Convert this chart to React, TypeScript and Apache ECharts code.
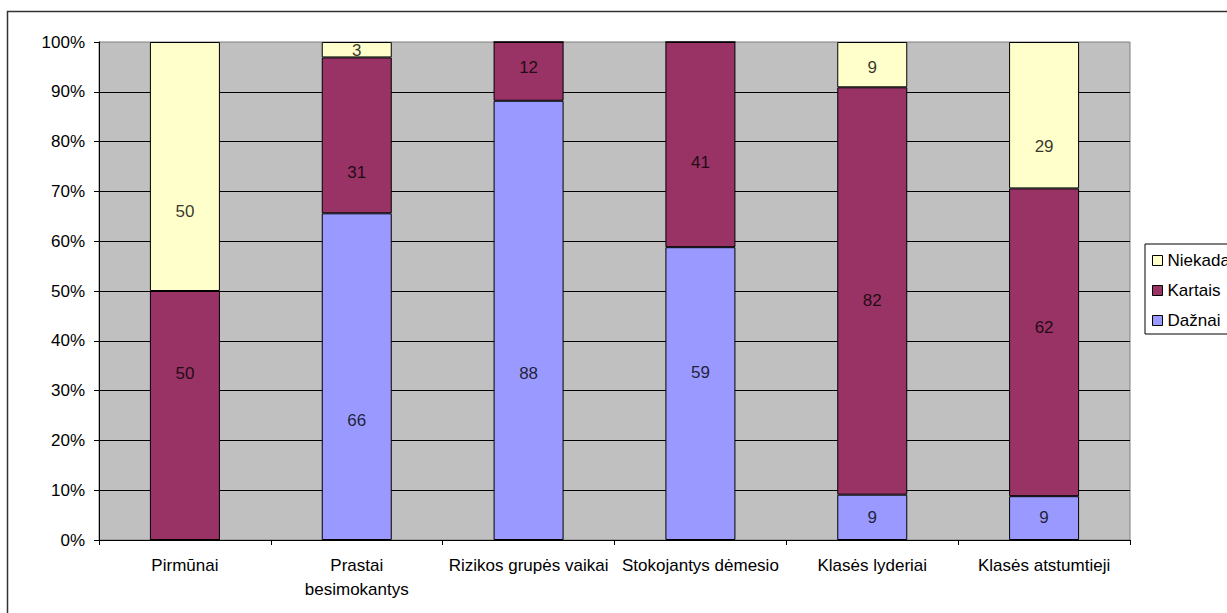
import React, { useEffect, useRef } from "react";
import * as echarts from "echarts";

const categories = [
  "Pirmūnai",
  "Prastai\nbesimokantys",
  "Rizikos grupės vaikai",
  "Stokojantys dėmesio",
  "Klasės lyderiai",
  "Klasės atstumtieji",
];
const seriesNames = ["Dažnai", "Kartais", "Niekada"];
// segment shares (%)
const dazniValues = [0, 65.6, 88.2, 58.8, 9.1, 8.8];
const kartaisValues = [50, 31.3, 11.8, 41.2, 81.8, 61.8];
const niekadaValues = [50, 3.1, 0, 0, 9.1, 29.4];
// where each value label sits on the % axis in the reference (null = no label)
const dazniLabelAt = [null, 24.0, 33.5, 33.6, 4.5, 4.5];
const kartaisLabelAt = [33.5, 73.8, 94.8, 75.8, 48.1, 42.7];
const niekadaLabelAt = [65.9, 98.2, null, null, 94.8, 79.1];
const yTicks = [0, 10, 20, 30, 40, 50, 60, 70, 80, 90, 100];
const colors = ["#9999FF", "#993366", "#FFFFCC"];

const FONT = "'Liberation Sans', Arial, sans-serif";
const FS = 17;

export default function App() {
  const ref = useRef<HTMLDivElement>(null);
  useEffect(() => {
    if (!ref.current) return;
    const chart = echarts.init(ref.current, undefined, { renderer: "svg" });
    const values = [dazniValues, kartaisValues, niekadaValues];
    const labelAt = [dazniLabelAt, kartaisLabelAt, niekadaLabelAt];

    const barSeries = seriesNames.map((name, i) => ({
      name,
      type: "bar",
      stack: "total",
      barWidth: 70,
      data: values[i],
      itemStyle: { color: colors[i], borderColor: "#000", borderWidth: 1 },
      label: { show: false },
      z: 2,
    }));

    const labelSeries = seriesNames.map((name, i) => ({
      name: name + "-labels",
      type: "scatter",
      symbolSize: 0,
      silent: true,
      z: 5,
      data: labelAt[i]
        .map((y, c) =>
          y === null || !values[i][c]
            ? null
            : { value: [c, y], text: String(Math.round(values[i][c])) }
        )
        .filter((d) => d !== null),
      label: {
        show: true,
        position: "inside",
        fontSize: FS,
        color: "#000",
        fontFamily: FONT,
        formatter: (p: any) => p.data.text,
      },
    }));

    chart.setOption({
      animation: false,
      textStyle: { fontFamily: FONT, color: "#000" },
      graphic: [
        {
          type: "rect",
          shape: { x: 7.5, y: 11.5, width: 1260, height: 640 },
          style: { fill: "none", stroke: "#333", lineWidth: 1.5 },
          silent: true,
          z: 0,
        },
      ],
      grid: {
        left: 99,
        top: 42,
        width: 1031,
        height: 498,
        show: true,
        backgroundColor: "#C0C0C0",
        borderColor: "#808080",
        borderWidth: 1,
      },
      legend: {
        orient: "vertical",
        left: 1145,
        top: 244,
        data: [seriesNames[2], seriesNames[1], seriesNames[0]],
        padding: [8, 40, 5, 7],
        itemWidth: 10,
        itemHeight: 10,
        itemGap: 13,
        icon: "rect",
        borderColor: "#000",
        borderWidth: 1,
        backgroundColor: "#fff",
        textStyle: { fontSize: FS, color: "#000", fontFamily: FONT },
        itemStyle: { borderColor: "#000", borderWidth: 1 },
      },
      xAxis: {
        type: "category",
        data: categories,
        axisLine: { show: true, lineStyle: { color: "#000", width: 1 } },
        axisTick: { show: true, length: 5, alignWithLabel: false, lineStyle: { color: "#000" } },
        axisLabel: {
          fontSize: FS,
          color: "#000",
          fontFamily: FONT,
          margin: 13,
          lineHeight: 24,
          interval: 0,
        },
        splitLine: { show: false },
      },
      yAxis: {
        type: "value",
        min: yTicks[0],
        max: yTicks[yTicks.length - 1],
        interval: 10,
        axisLine: { show: true, lineStyle: { color: "#000", width: 1 } },
        axisTick: { show: true, length: 5, lineStyle: { color: "#000" } },
        axisLabel: {
          fontSize: FS,
          color: "#000",
          fontFamily: FONT,
          margin: 14,
          formatter: "{value}%",
        },
        splitLine: { show: true, showMaxLine: false, lineStyle: { color: "#000", width: 1 } },
      },
      series: [...barSeries, ...labelSeries],
    });
    return () => chart.dispose();
  }, []);
  return (
    <div
      ref={ref}
      style={{ position: "fixed", left: 0, top: 0, width: 1227, height: 613, background: "#fff" }}
    />
  );
}
